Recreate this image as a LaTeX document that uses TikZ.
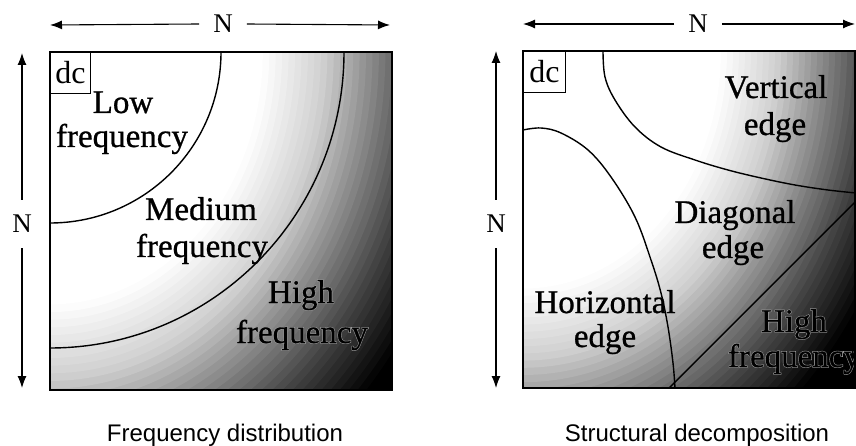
\documentclass[tikz,border=0pt]{standalone}
\usepackage{fontspec}
\setmainfont{Liberation Serif}
\newfontfamily\capfont{Liberation Sans}
\newfontfamily\labfont[FakeBold=0.8]{Liberation Serif}
\newfontfamily\halofont[FakeBold=4]{Liberation Serif}
\usetikzlibrary{arrows.meta}
\tikzset{
  arr/.style={-{Latex[length=12pt,width=9pt]}, line width=1.1pt},
  nlabh/.style={font=\fontsize{27}{30}\selectfont, inner ysep=0pt, inner xsep=14pt},
  nlabv/.style={font=\fontsize{27}{30}\selectfont, inner xsep=0pt, inner ysep=15pt},
  curve/.style={line width=1.4pt},
  sqframe/.style={line width=1.8pt},
  dcbox/.style={draw, line width=1pt, anchor=north west, inner sep=0pt, font=\fontsize{32}{34}\selectfont},
  lab/.style={font=\labfont\fontsize{33}{36}\selectfont, inner sep=0pt, anchor=base},
  halo/.style={font=\halofont\fontsize{33}{36}\selectfont, inner sep=0pt, anchor=base, text=black!35},
  captext/.style={font=\capfont\fontsize{24}{28}\selectfont, inner sep=0pt, anchor=base}
}
% gradient of concentric ellipses round a corner
\newcommand{\cornergrad}[4]{% cx, cy, Rx, Ry
  \foreach \i in {90,...,1}{%
    \pgfmathsetmacro{\rr}{\i*0.015}%
    \pgfmathsetmacro{\pp}{\rr<0.5 ? 0 : (\rr<0.64 ? (\rr-0.5)/0.14*18 : (\rr<0.77 ? 18+(\rr-0.64)/0.13*32 : (\rr<0.88 ? 50+(\rr-0.77)/0.11*26 : (\rr<1 ? 76+(\rr-0.88)/0.12*24 : 100))))}%
    \fill[black!\pp] (#1,#2) ellipse [x radius=\rr*#3, y radius=\rr*#4];
  }%
}
\begin{document}
\begin{tikzpicture}[x=1pt,y=-1pt]
\useasboundingbox (0,0) rectangle (856,446);
% ---------------- left diagram ----------------
\begin{scope}
  \clip (50,52) rectangle (392,390);
  \cornergrad{50}{52}{430}{510}
\end{scope}
\draw[curve] (221,52) arc[start angle=0,end angle=90,x radius=171,y radius=171];
\draw[curve] (344,52) arc[start angle=0,end angle=90,x radius=294,y radius=296];
\node[lab] (low1) at (123,113) {Low};
\node[lab] (low2) at (122,147) {frequency};
\node[lab] (med1) at (201,220) {Medium};
\node[lab] (med2) at (202,257) {frequency};
\node[halo] (hi1h) at (301,303) {High};
\node[halo] (hi2h) at (302,343) {frequency};
\node[lab] (hi1) at (301,303) {High};
\node[lab] (hi2) at (302,343) {frequency};
\draw[sqframe] (50,52) rectangle (392,390);
\node[dcbox, fill=white, minimum width=40pt, minimum height=41pt] (dc1) at (50,52) {dc};
% arrows
\coordinate (l1) at (50,25);
\coordinate (r1) at (390,25);
\node[nlabh] (n1) at (223,24) {N};
\draw[arr] (n1.west) -- (l1);
\draw[arr] (n1.east) -- (r1);
\coordinate (t1) at (22,53);
\coordinate (b1) at (22,388);
\node[nlabv] (n2) at (22,224) {N};
\draw[arr] (n2.north) -- (t1);
\draw[arr] (n2.south) -- (b1);
\node[captext] (cap1) at (225,441) {Frequency distribution};
% ---------------- right diagram ----------------
\begin{scope}
  \clip (523,51) rectangle (855,388);
  \cornergrad{523}{51}{400}{480}
\end{scope}
\draw[curve] plot[smooth, tension=0.6] coordinates {(603,51) (605,77) (615,100) (635,127) (661,147) (695,160) (728,170) (761,178) (795,185) (828,190) (856,193)};
\draw[curve] plot[smooth, tension=0.6] coordinates {(523,130) (541,128) (561,133) (588,150) (611,177) (635,217) (651,260) (661,293) (668,327) (673,363) (675,388)};
\draw[curve] (669,388) -- (856,201);
\node[lab] (ve1) at (776,98) {Vertical};
\node[lab] (ve2) at (775,135) {edge};
\node[lab] (de1) at (735,223) {Diagonal};
\node[lab] (de2) at (733,258) {edge};
\node[lab] (he1) at (605,313) {Horizontal};
\node[lab] (he2) at (605,347) {edge};
\node[halo] (rh1h) at (794,332) {High};
\node[halo] (rh2h) at (794,367) {frequency};
\node[lab] (rh1) at (794,332) {High};
\node[lab] (rh2) at (794,367) {frequency};
\draw[sqframe] (523,51) rectangle (855,388);
\node[dcbox, fill=white, minimum width=42pt, minimum height=41pt] (dc2) at (523,51) {dc};
\coordinate (l2) at (523,24);
\coordinate (r2) at (855,24);
\node[nlabh] (n3) at (698,24) {N};
\draw[arr] (n3.west) -- (l2);
\draw[arr] (n3.east) -- (r2);
\coordinate (t2) at (496,51);
\coordinate (b2) at (496,388);
\node[nlabv] (n4) at (496,224) {N};
\draw[arr] (n4.north) -- (t2);
\draw[arr] (n4.south) -- (b2);
\node[captext] (cap2) at (697,441) {Structural decomposition};
\end{tikzpicture}
\end{document}
